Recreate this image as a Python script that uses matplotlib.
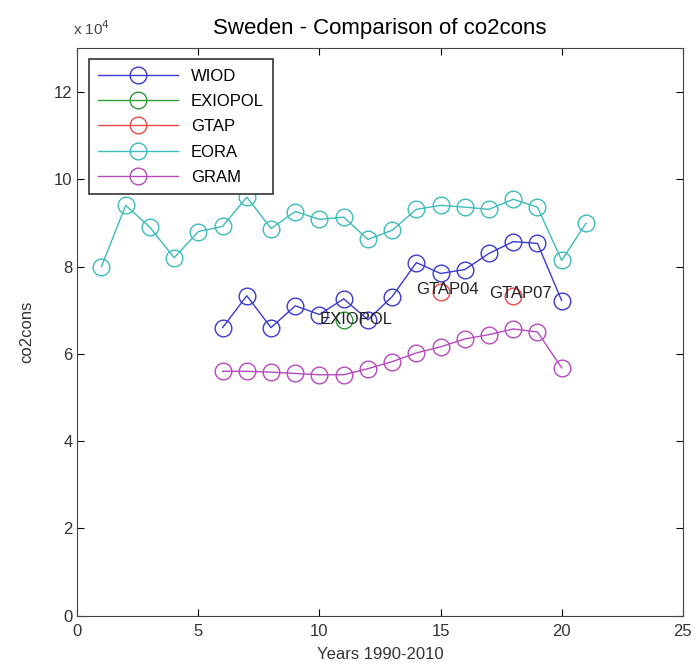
import matplotlib
matplotlib.use("Agg")
import matplotlib.pyplot as plt

plt.rcParams["font.family"] = ["Liberation Sans", "DejaVu Sans"]

# values in units of 1e4
EORA_X = list(range(1, 22))
EORA_Y = [8.00, 9.40, 8.90, 8.20, 8.80, 8.92, 9.59, 8.87, 9.26, 9.08, 9.13,
          8.62, 8.83, 9.31, 9.40, 9.36, 9.31, 9.54, 9.36, 8.14, 8.99]
WIOD_X = list(range(6, 21))
WIOD_Y = [6.60, 7.33, 6.60, 7.10, 6.90, 7.26, 6.78, 7.31, 8.09, 7.84, 7.93,
          8.30, 8.57, 8.53, 7.22]
EXIOPOL_X = [11]
EXIOPOL_Y = [6.78]
GTAP_X = [15, 18]
GTAP_Y = [7.42, 7.33]
GTAP_LABELS = ["GTAP04", "GTAP07"]
GRAM_X = list(range(6, 21))
GRAM_Y = [5.60, 5.60, 5.58, 5.55, 5.52, 5.52, 5.66, 5.82, 6.02, 6.16, 6.34,
          6.44, 6.57, 6.50, 5.68]

COLORS = {
    "WIOD": "#3a3ad0",
    "EXIOPOL": "#2e9a3a",
    "GTAP": "#f04848",
    "EORA": "#3cbcbc",
    "GRAM": "#b848c0",
}

fig = plt.figure(figsize=(6.96, 6.70), dpi=100)
ax = fig.add_axes([0.111, 0.081, 0.870, 0.847])

style = dict(marker="o", markersize=12, markerfacecolor="none",
             linewidth=1.0, markeredgewidth=1.0)
ax.plot(WIOD_X, WIOD_Y, color=COLORS["WIOD"], label="WIOD", **style)
ax.plot(EXIOPOL_X, EXIOPOL_Y, color=COLORS["EXIOPOL"], label="EXIOPOL", **style)
ax.plot(GTAP_X, GTAP_Y, color=COLORS["GTAP"], linestyle="none",
        marker="o", markersize=12, markerfacecolor="none", markeredgewidth=1.0)
gtap_handle, = ax.plot([], [], color=COLORS["GTAP"], label="GTAP", **style)
ax.plot(EORA_X, EORA_Y, color=COLORS["EORA"], label="EORA", **style)
ax.plot(GRAM_X, GRAM_Y, color=COLORS["GRAM"], label="GRAM", **style)

# point labels (placed one unit left, like matlab text())
ax.text(EXIOPOL_X[0] - 1, EXIOPOL_Y[0], "EXIOPOL", fontsize=12,
        va="center", ha="left", color="#222222")
for x, y, lab in zip(GTAP_X, GTAP_Y, GTAP_LABELS):
    ax.text(x - 1, y + 0.05, lab, fontsize=12, va="center", ha="left",
            color="#222222")

ax.set_xlim(0, 25)
ax.set_ylim(0, 13)
ax.set_xticks([0, 5, 10, 15, 20, 25])
ax.set_yticks([0, 2, 4, 6, 8, 10, 12])
ax.tick_params(direction="in", top=True, right=True, labelsize=12,
               labelcolor="#333333", length=5)
ax.tick_params(axis="x", pad=6)
for sp in ax.spines.values():
    sp.set_color("#444444")

ax.set_xlabel("Years 1990-2010", fontsize=12, color="#333333", labelpad=6)
ax.set_ylabel("co2cons", fontsize=12, color="#333333", labelpad=14)
ax.set_title("Sweden - Comparison of co2cons", fontsize=16, pad=10)
fig.text(0.105, 0.948, r"x 10$^4$", fontsize=11, color="#444444")

leg = ax.legend(loc="upper left", fontsize=12, fancybox=False, framealpha=1,
                edgecolor="#333333", handlelength=4.8, borderpad=0.55,
                labelspacing=0.62, bbox_to_anchor=(0.005, 0.995))
leg.get_frame().set_linewidth(1.2)

fig.savefig("out.png", dpi=100)
